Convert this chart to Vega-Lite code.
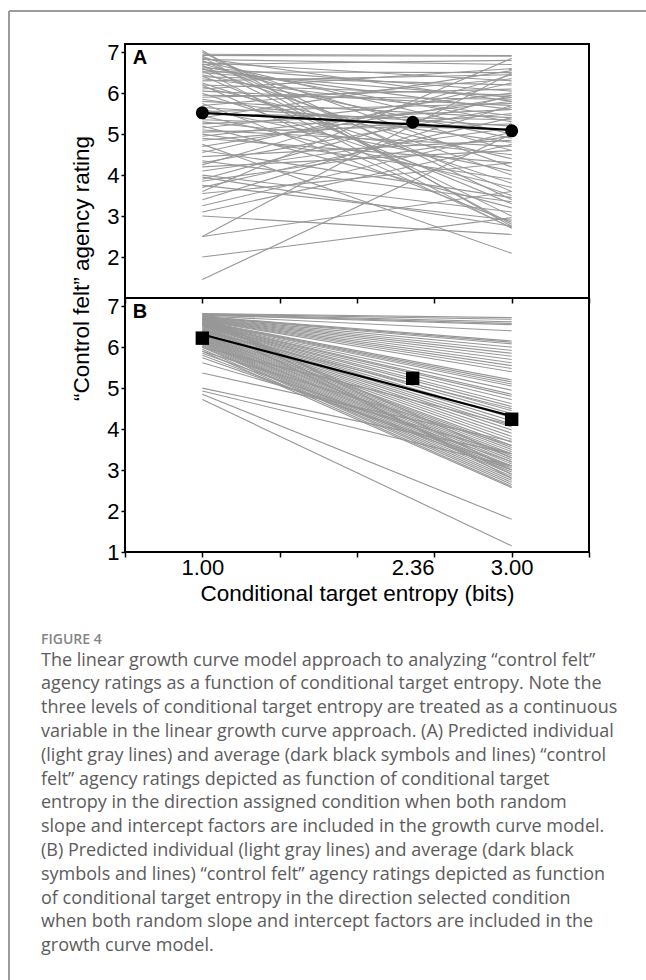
{
  "$schema": "https://vega.github.io/schema/vega-lite/v6.json",
  "padding": {"left": 7, "top": 9, "right": 1, "bottom": 1},
  "background": "white",
  "bounds": "flush",
  "spacing": 0,
  "datasets": {
    "indivA": [
      {"s":7.04,"e":2.75},{"s":7.00,"e":3.40},{"s":6.95,"e":6.92},{"s":6.92,"e":6.90},{"s":6.90,"e":4.20},
      {"s":6.88,"e":2.80},{"s":6.85,"e":5.80},{"s":6.82,"e":6.70},{"s":6.80,"e":3.60},{"s":6.78,"e":5.00},
      {"s":6.75,"e":6.30},{"s":6.72,"e":4.60},{"s":6.70,"e":6.80},{"s":6.68,"e":3.00},{"s":6.65,"e":5.30},
      {"s":6.62,"e":6.05},{"s":6.60,"e":4.00},{"s":6.58,"e":5.60},{"s":6.55,"e":2.70},{"s":6.52,"e":6.50},
      {"s":6.50,"e":5.90},{"s":6.45,"e":4.90},{"s":6.42,"e":3.30},{"s":6.40,"e":6.20},{"s":6.35,"e":5.45},
      {"s":6.30,"e":6.45},{"s":6.25,"e":3.80},{"s":6.20,"e":5.95},{"s":6.15,"e":4.40},{"s":6.10,"e":6.60},
      {"s":6.05,"e":5.70},{"s":6.00,"e":3.50},{"s":5.95,"e":5.85},{"s":5.90,"e":6.10},{"s":5.85,"e":4.80},
      {"s":5.80,"e":5.40},{"s":5.75,"e":2.85},{"s":5.70,"e":6.35},{"s":5.65,"e":5.20},{"s":5.60,"e":4.10},
      {"s":5.55,"e":5.75},{"s":5.50,"e":5.35},{"s":5.45,"e":3.70},{"s":5.40,"e":6.55},{"s":5.35,"e":5.10},
      {"s":5.30,"e":4.50},{"s":5.25,"e":5.60},{"s":5.20,"e":3.20},{"s":5.15,"e":6.00},{"s":5.10,"e":4.70},
      {"s":5.05,"e":5.25},{"s":5.00,"e":3.90},{"s":4.95,"e":5.80},{"s":4.90,"e":4.30},{"s":4.85,"e":5.50},
      {"s":4.75,"e":2.09},{"s":4.70,"e":5.90},{"s":4.60,"e":3.45},{"s":4.55,"e":6.25},{"s":4.45,"e":4.85},
      {"s":4.35,"e":3.35},{"s":4.30,"e":5.65},{"s":4.25,"e":6.45},{"s":4.20,"e":4.60},{"s":4.10,"e":5.15},
      {"s":4.00,"e":3.10},{"s":3.90,"e":5.95},{"s":3.85,"e":4.95},{"s":3.75,"e":2.90},{"s":3.70,"e":5.40},
      {"s":3.60,"e":6.85},{"s":3.55,"e":4.30},{"s":3.40,"e":5.70},{"s":3.25,"e":5.05},{"s":3.10,"e":4.75},
      {"s":3.00,"e":2.55},{"s":2.50,"e":6.50},{"s":2.50,"e":3.60},{"s":2.00,"e":2.96},{"s":1.45,"e":5.00},
      {"s":3.95,"e":2.75},{"s":6.20,"e":2.72}
    ],
    "indivB": [
      {"s":6.82,"e":6.72},{"s":6.81,"e":6.68},{"s":6.80,"e":6.62},{"s":6.79,"e":6.58},{"s":6.78,"e":6.55},
      {"s":6.76,"e":6.40},{"s":6.75,"e":6.15},{"s":6.74,"e":6.12},{"s":6.73,"e":6.08},{"s":6.72,"e":6.00},
      {"s":6.71,"e":5.92},{"s":6.70,"e":5.85},{"s":6.69,"e":5.78},{"s":6.68,"e":5.70},{"s":6.67,"e":5.62},
      {"s":6.66,"e":5.55},{"s":6.65,"e":5.48},{"s":6.64,"e":5.40},{"s":6.63,"e":5.20},{"s":6.62,"e":5.15},
      {"s":6.61,"e":5.10},{"s":6.60,"e":5.05},{"s":6.59,"e":4.95},{"s":6.58,"e":4.85},{"s":6.57,"e":4.80},
      {"s":6.56,"e":4.72},{"s":6.55,"e":4.62},{"s":6.54,"e":4.55},{"s":6.53,"e":4.45},{"s":6.52,"e":4.38},
      {"s":6.51,"e":4.28},{"s":6.50,"e":4.20},{"s":6.48,"e":4.12},{"s":6.46,"e":4.05},{"s":6.45,"e":3.98},
      {"s":6.43,"e":3.90},{"s":6.42,"e":3.82},{"s":6.40,"e":3.75},{"s":6.38,"e":3.68},{"s":6.36,"e":3.60},
      {"s":6.35,"e":3.55},{"s":6.33,"e":3.50},{"s":6.31,"e":3.45},{"s":6.30,"e":3.40},{"s":6.28,"e":3.35},
      {"s":6.26,"e":3.30},{"s":6.25,"e":3.25},{"s":6.23,"e":3.20},{"s":6.21,"e":3.15},{"s":6.20,"e":3.10},
      {"s":6.18,"e":3.05},{"s":6.16,"e":3.00},{"s":6.14,"e":2.95},{"s":6.12,"e":2.90},{"s":6.10,"e":2.85},
      {"s":6.08,"e":2.80},{"s":6.05,"e":2.75},{"s":6.02,"e":2.70},{"s":6.00,"e":2.65},{"s":5.95,"e":2.60},
      {"s":5.90,"e":2.57},{"s":5.85,"e":3.20},{"s":5.80,"e":3.00},{"s":5.74,"e":3.10},{"s":5.62,"e":3.40},
      {"s":5.37,"e":3.70},{"s":5.00,"e":3.40},{"s":4.93,"e":3.10},{"s":4.85,"e":1.80},{"s":4.72,"e":1.15},
      {"s":6.80,"e":3.00},{"s":6.75,"e":2.80},{"s":6.68,"e":3.30},{"s":6.55,"e":2.90},{"s":6.40,"e":4.50},
      {"s":6.00,"e":4.10},{"s":5.90,"e":3.60}
    ],
    "fitA": [{"x1":1,"x2":3,"y1":5.52,"y2":5.10}],
    "fitB": [{"x1":1,"x2":3,"y1":6.31,"y2":4.32}],
    "meanA": [{"x":1,"y":5.52},{"x":2.36,"y":5.29},{"x":3,"y":5.08}],
    "meanB": [{"x":1,"y":6.22},{"x":2.36,"y":5.24},{"x":3,"y":4.24}]
  },
  "vconcat": [
    {
      "width": 464,
      "height": 254,
      "layer": [
        {
          "data": {"values": [{}]},
          "mark": {"type": "rule", "color": "#9c9c9c", "strokeWidth": 2, "clip": false},
          "encoding": {
            "x": {"datum": -0.25, "type": "quantitative", "scale": {"domain": [0.5, 3.5], "nice": false, "zero": false},
                  "axis": {"values": [0.5,1,1.5,2,2.5,3,3.5], "labels": false, "title": null, "tickSize": 5}},
            "x2": {"datum": 3.8685},
            "y": {"datum": 8.005, "type": "quantitative", "scale": {"domain": [1, 7.2], "nice": false, "zero": false},
                  "axis": {"values": [2,3,4,5,6,7], "title": null, "tickSize": 4, "labelPadding": 2}}
          }
        },
        {
          "data": {"values": [{}]},
          "mark": {"type": "rule", "color": "#9c9c9c", "strokeWidth": 2, "clip": false},
          "encoding": {
            "x": {"datum": -0.25, "type": "quantitative"},
            "y": {"datum": 8.005, "type": "quantitative"},
            "y2": {"datum": -15.646}
          }
        },
        {
          "data": {"name": "indivA"},
          "mark": {"type": "rule", "color": "#979797", "strokeWidth": 1.1},
          "encoding": {
            "x": {"datum": 1, "type": "quantitative"},
            "x2": {"datum": 3},
            "y": {"field": "s", "type": "quantitative"},
            "y2": {"field": "e"}
          }
        },
        {
          "data": {"name": "fitA"},
          "mark": {"type": "rule", "color": "black", "strokeWidth": 2.2},
          "encoding": {
            "x": {"field": "x1", "type": "quantitative"},
            "x2": {"field": "x2"},
            "y": {"field": "y1", "type": "quantitative"},
            "y2": {"field": "y2"}
          }
        },
        {
          "data": {"name": "meanA"},
          "mark": {"type": "point", "shape": "circle", "filled": true, "color": "black", "opacity": 1, "size": 170},
          "encoding": {
            "x": {"field": "x", "type": "quantitative"},
            "y": {"field": "y", "type": "quantitative"}
          }
        },
        {
          "data": {"values": [{"panel": "A"}]},
          "mark": {"type": "text", "align": "left", "baseline": "alphabetic", "font": "Liberation Sans", "fontSize": 20, "fontWeight": "bold", "color": "black"},
          "encoding": {
            "x": {"datum": 0.55, "type": "quantitative"},
            "y": {"datum": 6.7, "type": "quantitative"},
            "text": {"field": "panel"}
          }
        }
      ]
    },
    {
      "width": 464,
      "height": 254,
      "title": {
        "text": "FIGURE 4",
        "subtitle": [
          "The linear growth curve model approach to analyzing “control felt”",
          "agency ratings as a function of conditional target entropy. Note the",
          "three levels of conditional target entropy are treated as a continuous",
          "variable in the linear growth curve approach. (A) Predicted individual",
          "(light gray lines) and average (dark black symbols and lines) “control",
          "felt” agency ratings depicted as function of conditional target",
          "entropy in the direction assigned condition when both random",
          "slope and intercept factors are included in the growth curve model.",
          "(B) Predicted individual (light gray lines) and average (dark black",
          "symbols and lines) “control felt” agency ratings depicted as function",
          "of conditional target entropy in the direction selected condition",
          "when both random slope and intercept factors are included in the",
          "growth curve model."
        ],
        "orient": "bottom",
        "anchor": "start",
        "frame": "group",
        "dx": -84,
        "offset": 28,
        "font": "Open Sans",
        "fontSize": 14,
        "fontWeight": 600,
        "color": "#858585",
        "subtitleFont": "Open Sans",
        "subtitleFontSize": 18,
        "subtitleColor": "#5c5c5c",
        "subtitleLineHeight": 23.8,
        "subtitlePadding": 5
      },
      "layer": [
        {
          "data": {"name": "indivB"},
          "mark": {"type": "rule", "color": "#979797", "strokeWidth": 1.1},
          "encoding": {
            "x": {"datum": 1, "type": "quantitative", "scale": {"domain": [0.5, 3.5], "nice": false, "zero": false},
                  "axis": {
                    "values": [0.5,1,1.5,2,2.36,2.5,3,3.5],
                    "labelExpr": "datum.value == 1 ? '1.00' : datum.value == 2.36 ? '2.36' : datum.value == 3 ? '3.00' : ''",
                    "tickOpacity": {"condition": {"test": "datum.value == 2.36", "value": 0}, "value": 1},
                    "tickSize": 5,
                    "labelPadding": 0,
                    "labelFlush": false,
                    "labelOverlap": false,
                    "title": "Conditional target entropy (bits)",
                    "titlePadding": 4
                  }},
            "x2": {"datum": 3},
            "y": {"field": "s", "type": "quantitative", "scale": {"domain": [1, 7.2], "nice": false, "zero": false},
                  "axis": {
                    "values": [1,2,3,4,5,6,7],
                    "tickSize": 4,
                    "labelPadding": 2,
                    "title": "“Control felt” agency rating",
                    "titleX": -44,
                    "titleY": -30,
                    "titleAngle": -90,
                    "titleAlign": "center",
                    "titleBaseline": "middle",
                    "titleFontSize": 22.5
                  }},
            "y2": {"field": "e"}
          }
        },
        {
          "data": {"name": "fitB"},
          "mark": {"type": "rule", "color": "black", "strokeWidth": 2.2},
          "encoding": {
            "x": {"field": "x1", "type": "quantitative"},
            "x2": {"field": "x2"},
            "y": {"field": "y1", "type": "quantitative"},
            "y2": {"field": "y2"}
          }
        },
        {
          "data": {"name": "meanB"},
          "mark": {"type": "point", "shape": "square", "filled": true, "color": "black", "opacity": 1, "size": 180},
          "encoding": {
            "x": {"field": "x", "type": "quantitative"},
            "y": {"field": "y", "type": "quantitative"}
          }
        },
        {
          "data": {"values": [{"panel": "B"}]},
          "mark": {"type": "text", "align": "left", "baseline": "alphabetic", "font": "Liberation Sans", "fontSize": 20, "fontWeight": "bold", "color": "black"},
          "encoding": {
            "x": {"datum": 0.55, "type": "quantitative"},
            "y": {"datum": 6.7, "type": "quantitative"},
            "text": {"field": "panel"}
          }
        }
      ]
    }
  ],
  "config": {
    "view": {"stroke": "black", "strokeWidth": 2},
    "axis": {
      "domain": false,
      "grid": false,
      "labelFont": "Liberation Sans",
      "labelFontSize": 22,
      "labelColor": "black",
      "tickColor": "black",
      "tickWidth": 1.5,
      "titleFont": "Liberation Sans",
      "titleFontSize": 22.5,
      "titleFontWeight": "normal",
      "titleColor": "black"
    }
  }
}
